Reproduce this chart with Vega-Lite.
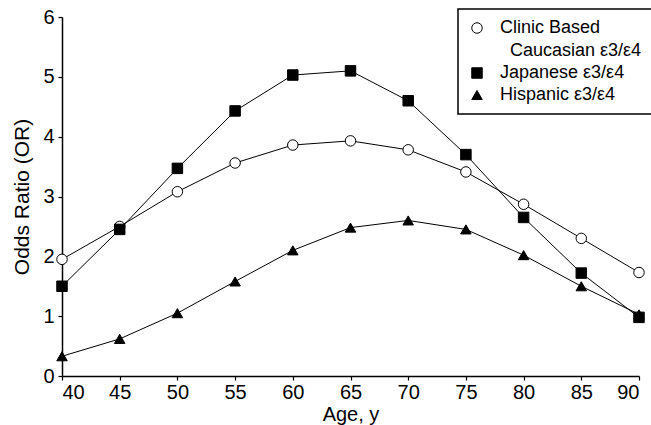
{
  "$schema": "https://vega.github.io/schema/vega-lite/v6.json",
  "width": 577,
  "height": 359,
  "autosize": {"type": "none"},
  "padding": {"left": 62, "top": 17, "right": 12, "bottom": 49},
  "background": "white",
  "config": {
    "view": {"stroke": null},
    "font": "Liberation Sans",
    "axis": {
      "grid": false,
      "domainColor": "black",
      "domainWidth": 1.5,
      "tickColor": "black",
      "tickWidth": 1.2,
      "tickSize": 4,
      "labelColor": "black",
      "labelFont": "Liberation Sans",
      "labelFontSize": 20,
      "titleFont": "Liberation Sans",
      "titleFontSize": 20,
      "titleFontWeight": "normal",
      "titleColor": "black"
    },
    "legend": {
      "title": null,
      "orient": "none",
      "legendX": 396,
      "legendY": -8,
      "padding": 10,
      "strokeColor": "black",
      "strokeWidth": 1.5,
      "fillColor": "white",
      "labelFont": "Liberation Sans",
      "labelFontSize": 18,
      "labelColor": "black",
      "labelLimit": 300,
      "labelOffset": 14,
      "symbolSize": 110,
      "symbolStrokeColor": "black",
      "symbolStrokeWidth": 1,
      "symbolOpacity": 1,
      "rowPadding": 4
    }
  },
  "data": {
    "values": [
      {"age": 40, "series": "Clinic Based Caucasian ε3/ε4", "or": 1.95},
      {"age": 45, "series": "Clinic Based Caucasian ε3/ε4", "or": 2.5},
      {"age": 50, "series": "Clinic Based Caucasian ε3/ε4", "or": 3.08},
      {"age": 55, "series": "Clinic Based Caucasian ε3/ε4", "or": 3.56},
      {"age": 60, "series": "Clinic Based Caucasian ε3/ε4", "or": 3.86},
      {"age": 65, "series": "Clinic Based Caucasian ε3/ε4", "or": 3.93},
      {"age": 70, "series": "Clinic Based Caucasian ε3/ε4", "or": 3.78},
      {"age": 75, "series": "Clinic Based Caucasian ε3/ε4", "or": 3.41},
      {"age": 80, "series": "Clinic Based Caucasian ε3/ε4", "or": 2.87},
      {"age": 85, "series": "Clinic Based Caucasian ε3/ε4", "or": 2.3},
      {"age": 90, "series": "Clinic Based Caucasian ε3/ε4", "or": 1.73},
      {"age": 40, "series": "Japanese ε3/ε4", "or": 1.5},
      {"age": 45, "series": "Japanese ε3/ε4", "or": 2.45},
      {"age": 50, "series": "Japanese ε3/ε4", "or": 3.47},
      {"age": 55, "series": "Japanese ε3/ε4", "or": 4.43},
      {"age": 60, "series": "Japanese ε3/ε4", "or": 5.03},
      {"age": 65, "series": "Japanese ε3/ε4", "or": 5.1},
      {"age": 70, "series": "Japanese ε3/ε4", "or": 4.6},
      {"age": 75, "series": "Japanese ε3/ε4", "or": 3.7},
      {"age": 80, "series": "Japanese ε3/ε4", "or": 2.65},
      {"age": 85, "series": "Japanese ε3/ε4", "or": 1.72},
      {"age": 90, "series": "Japanese ε3/ε4", "or": 0.98},
      {"age": 40, "series": "Hispanic ε3/ε4", "or": 0.33},
      {"age": 45, "series": "Hispanic ε3/ε4", "or": 0.62},
      {"age": 50, "series": "Hispanic ε3/ε4", "or": 1.05},
      {"age": 55, "series": "Hispanic ε3/ε4", "or": 1.58},
      {"age": 60, "series": "Hispanic ε3/ε4", "or": 2.1},
      {"age": 65, "series": "Hispanic ε3/ε4", "or": 2.48},
      {"age": 70, "series": "Hispanic ε3/ε4", "or": 2.6},
      {"age": 75, "series": "Hispanic ε3/ε4", "or": 2.45},
      {"age": 80, "series": "Hispanic ε3/ε4", "or": 2.02},
      {"age": 85, "series": "Hispanic ε3/ε4", "or": 1.5},
      {"age": 90, "series": "Hispanic ε3/ε4", "or": 1.03}
    ]
  },
  "encoding": {
    "x": {
      "field": "age", "type": "quantitative",
      "scale": {"domain": [40, 90], "nice": false, "zero": false},
      "axis": {"values": [40, 45, 50, 55, 60, 65, 70, 75, 80, 85, 90], "title": "Age, y", "titlePadding": 2, "labelPadding": 2}
    },
    "y": {
      "field": "or", "type": "quantitative",
      "scale": {"domain": [0, 6], "nice": false},
      "axis": {"values": [0, 1, 2, 3, 4, 5, 6], "title": "Odds Ratio (OR)", "titleFontSize": 21, "titlePadding": 10, "labelPadding": 4}
    }
  },
  "layer": [
    {
      "mark": {"type": "line", "color": "black", "strokeWidth": 1},
      "encoding": {"detail": {"field": "series"}}
    },
    {
      "mark": {"type": "point", "filled": true, "stroke": "black", "strokeWidth": 1, "opacity": 1, "strokeOpacity": 1},
      "encoding": {
        "shape": {
          "field": "series", "type": "nominal",
          "scale": {"domain": ["Clinic Based Caucasian ε3/ε4", "Japanese ε3/ε4", "Hispanic ε3/ε4"], "range": ["circle", "square", "triangle-up"]},
          "legend": {
            "labelExpr": "datum.label == 'Clinic Based Caucasian ε3/ε4' ? ['Clinic Based', '\u200b\u00a0\u00a0Caucasian ε3/ε4'] : datum.label",
            "encode": {"labels": {"update": {"lineHeight": {"value": 23}}}}
          }
        },
        "fill": {
          "field": "series", "type": "nominal",
          "scale": {"domain": ["Clinic Based Caucasian ε3/ε4", "Japanese ε3/ε4", "Hispanic ε3/ε4"], "range": ["white", "black", "black"]},
          "legend": {
            "labelExpr": "datum.label == 'Clinic Based Caucasian ε3/ε4' ? ['Clinic Based', '\u200b\u00a0\u00a0Caucasian ε3/ε4'] : datum.label",
            "encode": {"labels": {"update": {"lineHeight": {"value": 23}}}}
          }
        },
        "size": {"value": 110}
      }
    }
  ]
}
